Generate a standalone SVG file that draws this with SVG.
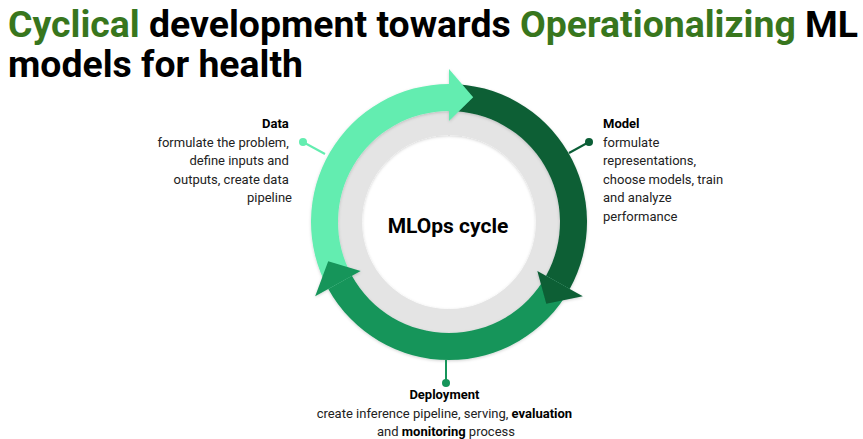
<svg xmlns="http://www.w3.org/2000/svg" width="863" height="439" viewBox="0 0 863 439">
<defs>
<style>
.title{font-family:Roboto,"Liberation Sans",sans-serif;font-weight:700;font-size:37px;fill:#000}
.hl{fill:#38761d}
.lbl{font-family:Roboto,"Liberation Sans",sans-serif;font-size:13px;fill:#222}
.b{font-weight:700;fill:#000}
.center{font-family:Roboto,"Liberation Sans",sans-serif;font-weight:700;font-size:21px;fill:#000}
.light{fill:#64edb0}
.dark{fill:#0b5e36}
.mid{fill:#15955a}
</style>
<filter id="sh" x="-20%" y="-20%" width="140%" height="140%">
<feDropShadow dx="0" dy="1" stdDeviation="1.5" flood-color="#000" flood-opacity="0.18"/>
</filter>
</defs>
<rect width="863" height="439" fill="#fff"/>
<g id="title">
<text class="title" x="8" y="37" textLength="850" lengthAdjust="spacingAndGlyphs"><tspan class="hl">Cyclical</tspan> development towards <tspan class="hl">Operationalizing</tspan> ML</text>
<text class="title" x="8" y="77" textLength="295" lengthAdjust="spacingAndGlyphs">models for health</text>
</g>
<g id="ring" filter="url(#sh)">
<circle cx="449" cy="222" r="99" fill="none" stroke="#e4e4e4" stroke-width="24"/>
</g>
<g id="cycle" filter="url(#sh)">
<path class="light" d="M 328.3 288.9 A 138 138 0 0 1 449 84 L 449 111 A 111 111 0 0 0 351.92 275.81 Z"/>
<path class="dark" d="M 449 84 A 138 138 0 0 1 569.7 288.9 L 546.08 275.81 A 111 111 0 0 0 449 111 Z"/>
<path class="mid" d="M 569.7 288.9 A 138 138 0 0 1 328.3 288.9 L 351.92 275.81 A 111 111 0 0 0 546.08 275.81 Z"/>
<polygon class="light" points="449,121 449,69 473.2,97.3"/>
<polygon class="dark" points="537.33,270.97 582.81,296.18 546.29,303.63"/>
<polygon class="mid" points="360.67,270.97 315.19,296.18 328.21,261.24"/>
</g>
<g id="connectors" stroke-width="2">
<line x1="303" y1="142" x2="325" y2="154" stroke="#64edb0"/>
<circle cx="303" cy="142" r="4" fill="#64edb0"/>
<line x1="589" y1="142" x2="569" y2="153" stroke="#0b5e36"/>
<circle cx="589" cy="142" r="4" fill="#0b5e36"/>
<line x1="446" y1="360" x2="446" y2="383" stroke="#15955a"/>
<circle cx="446" cy="383" r="4" fill="#15955a"/>
</g>
<g id="center">
<text class="center" x="448" y="233" text-anchor="middle">MLOps cycle</text>
</g>
<g id="data">
<text class="lbl" text-anchor="end">
<tspan class="b" x="292" y="128">Data</tspan>
<tspan x="292" y="146.5">formulate the problem,</tspan>
<tspan x="292" y="165">define inputs and</tspan>
<tspan x="292" y="183.5">outputs, create data</tspan>
<tspan x="292" y="202">pipeline</tspan>
</text>
</g>
<g id="model">
<text class="lbl">
<tspan class="b" x="603" y="128">Model</tspan>
<tspan x="603" y="146.5">formulate</tspan>
<tspan x="603" y="165">representations,</tspan>
<tspan x="603" y="183.5">choose models, train</tspan>
<tspan x="603" y="202">and analyze</tspan>
<tspan x="603" y="220.5">performance</tspan>
</text>
</g>
<g id="deployment">
<text class="lbl" text-anchor="middle">
<tspan class="b" x="446" y="399">Deployment</tspan>
<tspan x="446" y="417.5">create inference pipeline, serving, <tspan class="b">evaluation</tspan></tspan>
<tspan x="446" y="436">and <tspan class="b">monitoring</tspan> process</tspan>
</text>
</g>
</svg>
